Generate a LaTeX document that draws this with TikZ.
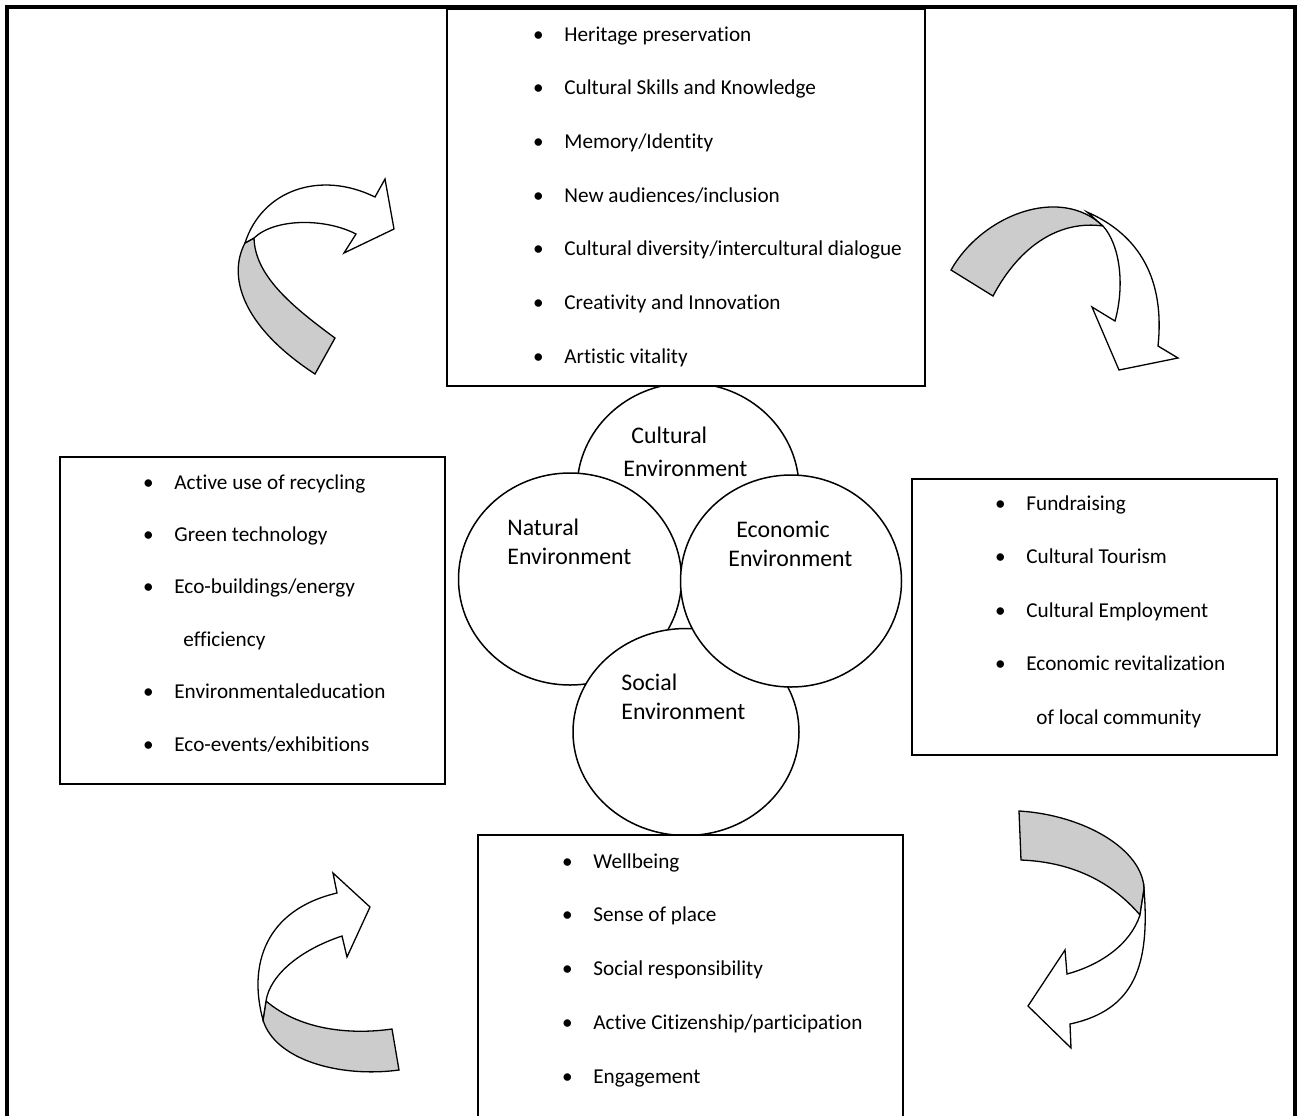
\documentclass[tikz,border=0pt]{standalone}
\usepackage{fontspec}
\setmainfont{Carlito}[Ligatures=NoCommon]
\usetikzlibrary{shapes.geometric}
\tikzset{
  frame/.style={draw, line width=2pt},
  listbox/.style={draw, fill=white, rectangle, line width=0.75pt, inner sep=0pt},
  env/.style={draw, fill=white, ellipse, line width=0.75pt, inner sep=0pt},
  envlabel/.style={anchor=base west, align=left, inner sep=0pt, font=\fontsize{11.9}{14.3}\selectfont},
  item/.style={anchor=base west, inner sep=0pt, font=\fontsize{10.6}{12.7}\selectfont},
  bandgrey/.style={draw, fill=black!20, line width=0.65pt},
  bandwhite/.style={draw, fill=white, line width=0.65pt}
}
\newcommand\bul{\makebox[0pt][c]{\textbullet}\hspace{13pt}}
\begin{document}
\begin{tikzpicture}[x=0.5pt, y=-0.5pt]
\useasboundingbox (0,0) rectangle (1302,1115);
\node[env, minimum width=111pt, minimum height=106pt] (cultural) at (688,489) {};
\node[env, minimum width=111.5pt, minimum height=106pt] (natural) at (570,579) {};
\node[env, minimum width=113pt, minimum height=103.5pt] (social) at (686,732) {};
\node[env, minimum width=110.5pt, minimum height=106pt] (economic) at (791,581) {};
\node[envlabel] (culturallabel) at (623,476) {\hspace*{4pt}Cultural\\[2.2pt]Environment};
\node[envlabel] (naturallabel) at (507,564) {Natural\\Environment};
\node[envlabel] (economiclabel) at (728,566) {\hspace*{4pt}Economic\\Environment};
\node[envlabel] (sociallabel) at (621,719) {Social\\Environment};
\node[listbox, minimum width=239pt, minimum height=188.5pt] (culturebox) at (686,197.5) {};
\node[listbox, minimum width=192.5pt, minimum height=163.5pt] (naturebox) at (252.5,620.5) {};
\node[listbox, minimum width=182.5pt, minimum height=138pt] (economybox) at (1094.5,617) {};
\node[listbox, minimum width=212.5pt, minimum height=145pt] (societybox) at (690.5,980) {};
\foreach \txt [count=\i from 0] in {Heritage preservation, Cultural Skills and Knowledge, Memory/Identity, New audiences/inclusion, Cultural diversity/intercultural dialogue, Creativity and Innovation, Artistic vitality}
  \node[item] (cult\i) at (538,{41+53.7*\i}) {\bul\txt};
\foreach \k/\txt in {0/{Active use of recycling}, 1/{Green technology}, 2/{Eco-buildings/energy}, 4/{Environmentaleducation}, 5/{Eco-events/exhibitions}}
  \node[item] (nat\k) at (148,{489+52.4*\k}) {\bul\txt};
\node[item] (nat3) at (183,{489+52.4*3}) {efficiency};
\foreach \txt [count=\i from 0] in {Fundraising, Cultural Tourism, Cultural Employment, Economic revitalization}
  \node[item] (eco\i) at (1000,{510+53.5*\i}) {\bul\txt};
\node[item] (eco4) at (1036,{510+53.5*4}) {of local community};
\foreach \txt [count=\i from 0] in {Wellbeing, Sense of place, Social responsibility, Active Citizenship/participation, Engagement}
  \node[item] (soc\i) at (567,{868+53.75*\i}) {\bul\txt};
\draw[bandgrey] (245,243) .. controls (228,275) and (240,325) .. (315,374) -- (335,338) .. controls (290,305) and (255,275) .. (254,238) -- cycle;
\draw[bandwhite] (245,243) .. controls (262,190) and (320,170) .. (375,197) -- (385,179) -- (394,229) -- (344,253) -- (356,234) .. controls (325,218) and (275,218) .. (254,238) -- cycle;
\draw[bandgrey] (951,270) .. controls (982,215) and (1060,185) .. (1103,226) .. controls (1060,220) and (1020,245) .. (993,296) -- cycle;
\draw[bandwhite] (1087,212) .. controls (1140,235) and (1165,280) .. (1158,346) -- (1178,358) -- (1119,370) -- (1092,307) -- (1115,321) .. controls (1125,285) and (1120,245) .. (1103,226) -- cycle;
\draw[bandgrey] (1019,811) .. controls (1085,815) and (1143,850) .. (1144,889) -- (1140,915) .. controls (1110,880) and (1070,862) .. (1021,860) -- cycle;
\draw[bandwhite] (1144,889) .. controls (1150,965) and (1135,1010) .. (1070,1024) -- (1071,1048) -- (1028,1006) -- (1065,950) -- (1067,974) .. controls (1100,965) and (1130,945) .. (1140,915) -- cycle;
\draw[bandgrey] (266,1001) .. controls (300,1030) and (350,1035) .. (392,1029) -- (399,1070) .. controls (340,1078) and (275,1060) .. (263,1020) -- cycle;
\draw[bandwhite] (263,1020) .. controls (248,965) and (265,910) .. (337,893) -- (333,873) -- (370,907) -- (347,957) -- (342,936) .. controls (300,950) and (270,975) .. (266,1001) -- cycle;
\draw[frame] (7,7) rectangle (1295,1130);
\end{tikzpicture}
\end{document}
